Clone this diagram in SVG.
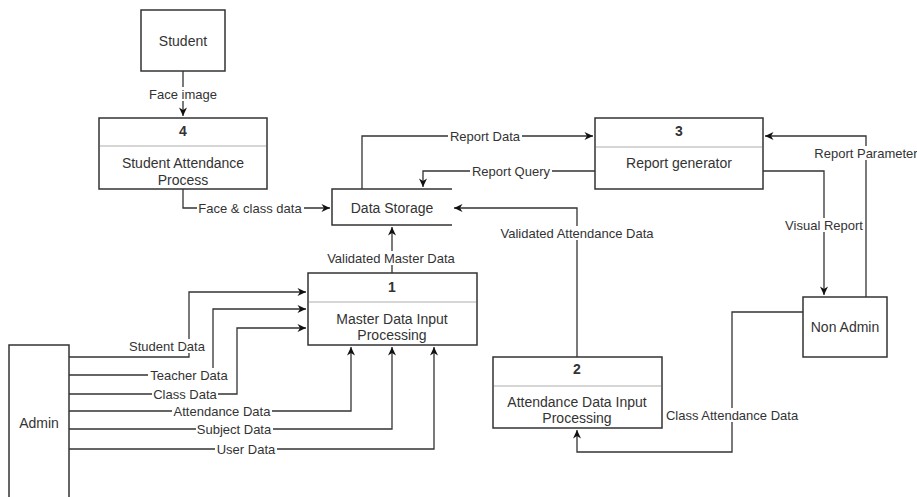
<svg xmlns="http://www.w3.org/2000/svg" width="917" height="497" viewBox="0 0 917 497">
<style>
.box{fill:#fff;stroke:#333;stroke-width:1.5}
.div{stroke:#c8c8c8;stroke-width:1.5}
.ln{fill:none;stroke:#333;stroke-width:1.3}
.t{font-family:"Liberation Sans",Arial,sans-serif;font-size:14px;fill:#333;text-anchor:middle;dominant-baseline:central}
.b{font-weight:bold}
.e{font-family:"Liberation Sans",Arial,sans-serif;font-size:13px;fill:#333;text-anchor:middle;dominant-baseline:central}
.bg{fill:#fff}
</style>
<defs>
<marker id="ar" markerUnits="userSpaceOnUse" markerWidth="10" markerHeight="10" refX="9" refY="5" orient="auto">
<path d="M0.5,1 L9,5 L0.5,9 L3,5 z" fill="#111"/>
</marker>
</defs>
<g id="connectors">
<path class="ln" d="M183,71 V116" marker-end="url(#ar)"/>
<path class="ln" d="M183,189 V208 H330" marker-end="url(#ar)"/>
<path class="ln" d="M362,189 V136 H593" marker-end="url(#ar)"/>
<path class="ln" d="M595,171 H423 V187" marker-end="url(#ar)"/>
<path class="ln" d="M577,357 V208 H454" marker-end="url(#ar)"/>
<path class="ln" d="M392,273 V227" marker-end="url(#ar)"/>
<path class="ln" d="M763,171 H824 V295" marker-end="url(#ar)"/>
<path class="ln" d="M866,297 V136 H765" marker-end="url(#ar)"/>
<path class="ln" d="M803,312 H732 V452 H577 V430" marker-end="url(#ar)"/>
<path class="ln" d="M69,357 H189 V292 H306" marker-end="url(#ar)"/>
<path class="ln" d="M69,375 H213 V309 H306" marker-end="url(#ar)"/>
<path class="ln" d="M69,394 H237 V328 H306" marker-end="url(#ar)"/>
<path class="ln" d="M69,411 H351 V347" marker-end="url(#ar)"/>
<path class="ln" d="M69,429 H392 V347" marker-end="url(#ar)"/>
<path class="ln" d="M69,449 H434 V347" marker-end="url(#ar)"/>
<rect class="bg" x="148" y="87" width="70" height="14"/>
<rect class="bg" x="197" y="201" width="107" height="14"/>
<rect class="bg" x="448" y="129" width="74" height="14"/>
<rect class="bg" x="470" y="164" width="82" height="14"/>
<rect class="bg" x="497" y="226" width="160" height="14"/>
<rect class="bg" x="325" y="251" width="133" height="14"/>
<rect class="bg" x="783" y="218" width="82" height="14"/>
<rect class="bg" x="812" y="146" width="105" height="14"/>
<rect class="bg" x="664" y="408" width="136" height="14"/>
<rect class="bg" x="127" y="339" width="80" height="14"/>
<rect class="bg" x="148" y="368" width="82" height="14"/>
<rect class="bg" x="152" y="387" width="66" height="14"/>
<rect class="bg" x="172" y="404" width="100" height="14"/>
<rect class="bg" x="196" y="422" width="77" height="14"/>
<rect class="bg" x="215" y="442" width="62" height="14"/>
<text class="e" x="183" y="94">Face image</text>
<text class="e" x="250" y="208">Face &amp; class data</text>
<text class="e" x="485" y="136">Report Data</text>
<text class="e" x="511" y="171">Report Query</text>
<text class="e" x="577" y="233">Validated Attendance Data</text>
<text class="e" x="391" y="258">Validated Master Data</text>
<text class="e" x="824" y="225">Visual Report</text>
<text class="e" x="866" y="153">Report Parameter</text>
<text class="e" x="732" y="415">Class Attendance Data</text>
<text class="e" x="167" y="346">Student Data</text>
<text class="e" x="189" y="375">Teacher Data</text>
<text class="e" x="185" y="394">Class Data</text>
<text class="e" x="222" y="411">Attendance Data</text>
<text class="e" x="234" y="429">Subject Data</text>
<text class="e" x="246" y="449">User Data</text>
</g>
<g id="student">
<rect class="box" x="141" y="10" width="84" height="61"/>
<text class="t" x="183" y="41">Student</text>
</g>
<g id="p4">
<rect class="box" x="99" y="118" width="168" height="71"/>
<line class="div" x1="100" y1="146" x2="266" y2="146"/>
<text class="t b" x="183" y="131">4</text>
<text class="t" x="183" y="163">Student Attendance</text>
<text class="t" x="183" y="180">Process</text>
</g>
<g id="datastorage">
<path d="M452,189 H332 V225 H452" fill="#fff" stroke="#333" stroke-width="1.5"/>
<text class="t" x="392" y="208">Data Storage</text>
</g>
<g id="p3">
<rect class="box" x="595" y="118" width="168" height="71"/>
<line class="div" x1="596" y1="147" x2="762" y2="147"/>
<text class="t b" x="679" y="131">3</text>
<text class="t" x="679" y="163">Report generator</text>
</g>
<g id="p1">
<rect class="box" x="308" y="273" width="169" height="72"/>
<line class="div" x1="309" y1="302" x2="476" y2="302"/>
<text class="t b" x="392" y="287">1</text>
<text class="t" x="392" y="319">Master Data Input</text>
<text class="t" x="392" y="335">Processing</text>
</g>
<g id="p2">
<rect class="box" x="493" y="357" width="169" height="71"/>
<line class="div" x1="494" y1="386" x2="661" y2="386"/>
<text class="t b" x="577" y="369">2</text>
<text class="t" x="577" y="402">Attendance Data Input</text>
<text class="t" x="577" y="418">Processing</text>
</g>
<g id="nonadmin">
<rect class="box" x="803" y="297" width="84" height="60"/>
<text class="t" x="845" y="327">Non Admin</text>
</g>
<g id="admin">
<rect class="box" x="9" y="345" width="60" height="170"/>
<text class="t" x="39" y="423">Admin</text>
</g>
</svg>
